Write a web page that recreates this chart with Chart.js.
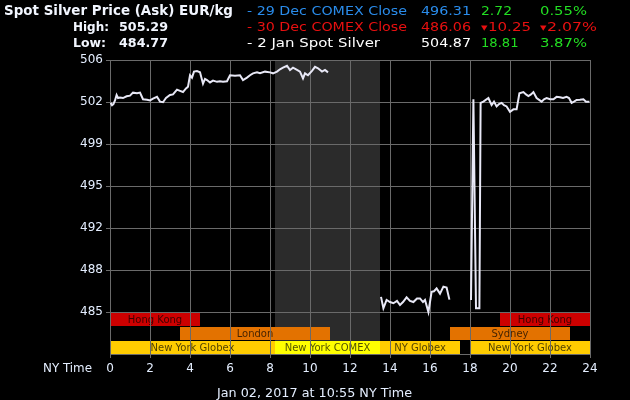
<!DOCTYPE html>
<html><head><meta charset="utf-8">
<script src="https://cdn.jsdelivr.net/npm/chart.js@4.4.0/dist/chart.umd.min.js"></script>
<style>html,body{margin:0;padding:0;background:#000;}canvas{display:block;}</style>
</head><body>
<canvas id="c" width="630" height="400"></canvas>
<script>
// ---- data (NY time hours, EUR/kg) ----
const hours = [
 0.03,0.1,0.17,0.25,0.33,0.4,0.5,0.65,0.83,1.0,1.15,1.35,1.5,1.65,1.85,2.0,2.15,2.35,2.5,2.65,2.8,3.0,3.15,3.35,3.5,3.65,3.8,3.9,4.0,4.1,4.2,4.35,4.5,4.65,4.75,4.85,5.0,5.15,5.35,5.5,5.65,5.85,6.0,6.25,6.5,6.65,6.75,6.85,7.0,7.15,7.35,7.5,7.75,8.0,8.15,8.35,8.5,8.65,8.85,9.0,9.15,9.35,9.5,9.65,9.75,9.9,10.1,10.25,10.4,10.6,10.75,10.9,
 12.2,
 13.55,13.67,13.83,14.0,14.17,14.35,14.5,14.65,14.83,15.0,15.17,15.35,15.5,15.65,15.75,15.92,16.08,16.2,16.33,16.5,16.67,16.83,16.97,
 17.5,
 18.05,18.17,18.3,18.47,18.53,18.67,18.92,19.08,19.2,19.33,19.45,19.58,19.7,19.83,20.0,20.17,20.33,20.47,20.67,20.8,20.92,21.05,21.17,21.33,21.58,21.7,21.83,22.0,22.17,22.33,22.5,22.65,22.83,22.95,23.08,23.2,23.33,23.5,23.67,23.8,23.97
];
const prices = [
 502.2,502.0,502.1,502.4,502.85,502.6,502.65,502.6,502.75,502.8,503.05,503.0,503.05,502.5,502.45,502.4,502.55,502.7,502.3,502.25,502.6,502.85,502.9,503.3,503.2,503.1,503.4,503.55,504.5,504.3,504.8,504.85,504.75,503.8,504.2,504.1,503.9,504.05,503.95,504.0,503.95,504.0,504.5,504.45,504.5,504.1,504.2,504.3,504.5,504.66,504.74,504.66,504.8,504.74,504.66,504.8,505.0,505.13,505.29,504.94,505.13,504.94,504.8,504.24,504.66,504.5,504.86,505.2,505.08,504.8,504.94,504.74,
 null,
 486.03,485.08,485.77,485.6,485.5,485.7,485.35,485.6,485.99,485.7,485.6,485.9,485.9,485.6,485.77,484.77,486.46,486.5,486.74,486.3,486.88,486.8,485.8,
 null,
 485.77,502.5,485.08,485.08,502.2,502.3,502.6,502.02,502.3,501.9,502.1,502.2,502.0,501.9,501.46,501.66,501.66,503.0,503.1,502.9,502.77,502.9,503.1,502.6,502.3,502.5,502.6,502.5,502.5,502.7,502.66,502.6,502.7,502.6,502.2,502.3,502.44,502.45,502.5,502.3,502.3
];
const xTickValues = [0,2,4,6,8,10,12,14,16,18,20,22,24];
const xTickLabels = ['0','2','4','6','8','10','12','14','16','18','20','22','24'];
const yTickValues = [484.77,488.27,491.77,495.27,498.77,502.27,505.77];
const yTickLabels = ['485','488','492','495','499','502','506'];
const yMin = 481.27, yMax = 505.77;

// trading sessions (hours) and rows in the band under the lowest tick
const sessionNames = ['Hong Kong','London','New York Globex','New York COMEX','NY Globex','Sydney','Hong Kong','New York Globex'];
const sessionStart = [0,3.5,0,8.25,13.5,17,19.5,18];
const sessionEnd   = [4.5,11,8.25,13.5,17.5,23,24,24];
const sessionRow   = [0,1,2,2,2,1,0,2];
const sessionKind  = ['asia','europe','globex','comex','globex','europe','asia','globex'];
const closedStart = 8.25, closedEnd = 13.5;

// header
const titleText = 'Spot Silver Price (Ask) EUR/kg';
const highValue = '505.29', lowValue = '484.77';
const legendLabels = ['- 29 Dec COMEX Close','- 30 Dec COMEX Close','- 2 Jan Spot Silver'];
const legendValues = ['496.31','486.06','504.87'];
const legendChanges = ['2.72','10.25','18.81'];
const legendPcts = ['0.55%','2.07%','3.87%'];
const legendDown = [false,true,false];
const footerText = 'Jan 02, 2017 at 10:55 NY Time';
const xAxisName = 'NY Time';

// ---- styles ----
const kindColors = {asia:'#CC0000', europe:'#E37200', globex:'#FFCC00', comex:'#FFFF00'};
const legendColors = ['#2A8CEB','#E81010','#FFFFFF'];
const upColor = '#22DD22', downColor = '#E81010';
const gridColor = '#6a6a6a';
const labelColor = '#E4EEFF';

function txt(ctx, s, x, y, font, color, w){
  ctx.save();
  ctx.font = font; ctx.fillStyle = color; ctx.textBaseline = 'alphabetic'; ctx.textAlign='left';
  const m = ctx.measureText(s).width;
  ctx.translate(x, y);
  if (w) ctx.scale(w / m, 1);
  ctx.fillText(s, 0, 0);
  ctx.restore();
}

const deco = {
  id: 'deco',
  beforeDraw(chart){
    const {ctx, scales:{x, y}} = chart;
    ctx.save();
    ctx.fillStyle = '#000'; ctx.fillRect(0,0,chart.width,chart.height);
    const top = y.getPixelForValue(yMax), bot = y.getPixelForValue(yMin);
    ctx.fillStyle = '#2B2B2B';
    const gx0 = x.getPixelForValue(closedStart), gx1 = x.getPixelForValue(closedEnd);
    ctx.fillRect(gx0, top, gx1-gx0, bot-top);
    const band = (yTickValues[0]-yMin)/3;
    ctx.font = '10px "DejaVu Sans"'; ctx.textAlign='center'; ctx.textBaseline='middle';
    for (let i=0;i<sessionNames.length;i++){
      const x0 = x.getPixelForValue(sessionStart[i]), x1 = x.getPixelForValue(sessionEnd[i]);
      const y0 = y.getPixelForValue(yTickValues[0]-sessionRow[i]*band);
      const y1 = y.getPixelForValue(yTickValues[0]-(sessionRow[i]+1)*band);
      ctx.fillStyle = kindColors[sessionKind[i]];
      ctx.fillRect(Math.round(x0), Math.round(y0)+1, Math.round(x1)-Math.round(x0), Math.round(y1)-Math.round(y0)-1);
      ctx.fillStyle = 'rgba(0,0,0,0.7)';
      ctx.fillText(sessionNames[i], (x0+x1)/2, (y0+y1)/2+1);
    }
    ctx.restore();
  },
  afterDraw(chart){
    const ctx = chart.ctx;
    const B = 'bold 13.5px "DejaVu Sans"', N = '13px "DejaVu Sans"';
    txt(ctx, titleText, 4, 15, B, '#F2F6FF', 229);
    txt(ctx, 'High:', 73, 31, 'bold 13px "DejaVu Sans"', '#F2F6FF', 36);
    txt(ctx, highValue, 119, 31, 'bold 13px "DejaVu Sans"', '#F2F6FF', 49);
    txt(ctx, 'Low:', 73, 47, 'bold 13px "DejaVu Sans"', '#F2F6FF', 33);
    txt(ctx, lowValue, 119, 47, 'bold 13px "DejaVu Sans"', '#F2F6FF', 49);
    const ys = [15,31,47];
    const lblW = [160,160,133];
    for (let i=0;i<3;i++){
      const c = legendColors[i], yy = ys[i];
      txt(ctx, legendLabels[i], 247, yy, N, c, lblW[i]);
      txt(ctx, legendValues[i], 421, yy, N, c, 50);
      const cc = legendDown[i] ? downColor : upColor;
      if (legendDown[i]){
        txt(ctx, '\u25BC', 481, yy-1, '7px "DejaVu Sans"', cc, 6.5);
        txt(ctx, legendChanges[i], 488, yy, N, cc, 43);
        txt(ctx, '\u25BC', 540, yy-1, '7px "DejaVu Sans"', cc, 6.5);
        txt(ctx, legendPcts[i], 547, yy, N, cc, 50);
      } else {
        txt(ctx, legendChanges[i], 481, yy, N, cc, legendChanges[i].length*6.5+5);
        txt(ctx, legendPcts[i], 540, yy, N, cc, 47);
      }
    }
    txt(ctx, xAxisName, 43, 372, '12px "DejaVu Sans"', labelColor, 49);
    txt(ctx, footerText, 217, 397, '13px "DejaVu Sans"', labelColor, 195);
  }
};

new Chart(document.getElementById('c'), {
  type: 'line',
  data: {
    datasets: [{
      data: hours.map((h,i)=>({x:h, y:prices[i]})),
      borderColor: '#E8E8F6', borderWidth: 2, pointRadius: 0, tension: 0, spanGaps: false, fill: false
    }]
  },
  options: {
    responsive: false, animation: false, devicePixelRatio: 1,
    layout: {padding: {left: 0, top: 60, right: 40, bottom: 0}},
    plugins: {legend: {display:false}, tooltip:{enabled:false}},
    scales: {
      x: {
        type: 'linear', min: 0, max: 24,
        afterBuildTicks: s => { s.ticks = xTickValues.map(v=>({value:v})); },
        afterFit: s => { s.height = 46; },
        ticks: {color: labelColor, font:{family:'DejaVu Sans', size:12}, padding: 4, maxRotation:0, autoSkip:false,
                callback: (v,i) => xTickLabels[i]},
        grid: {color: gridColor, tickLength: 4},
        border: {color: gridColor}
      },
      y: {
        min: yMin, max: yMax,
        afterBuildTicks: s => { s.ticks = yTickValues.map(v=>({value:v})); },
        afterFit: s => { s.width = 110; },
        ticks: {color: labelColor, font:{family:'DejaVu Sans', size:12}, padding: 3, autoSkip:false,
                callback: (v,i) => yTickLabels[i]},
        grid: {color: gridColor, tickLength: 4},
        border: {color: gridColor}
      }
    }
  },
  plugins: [deco]
});
</script>
</body></html>
